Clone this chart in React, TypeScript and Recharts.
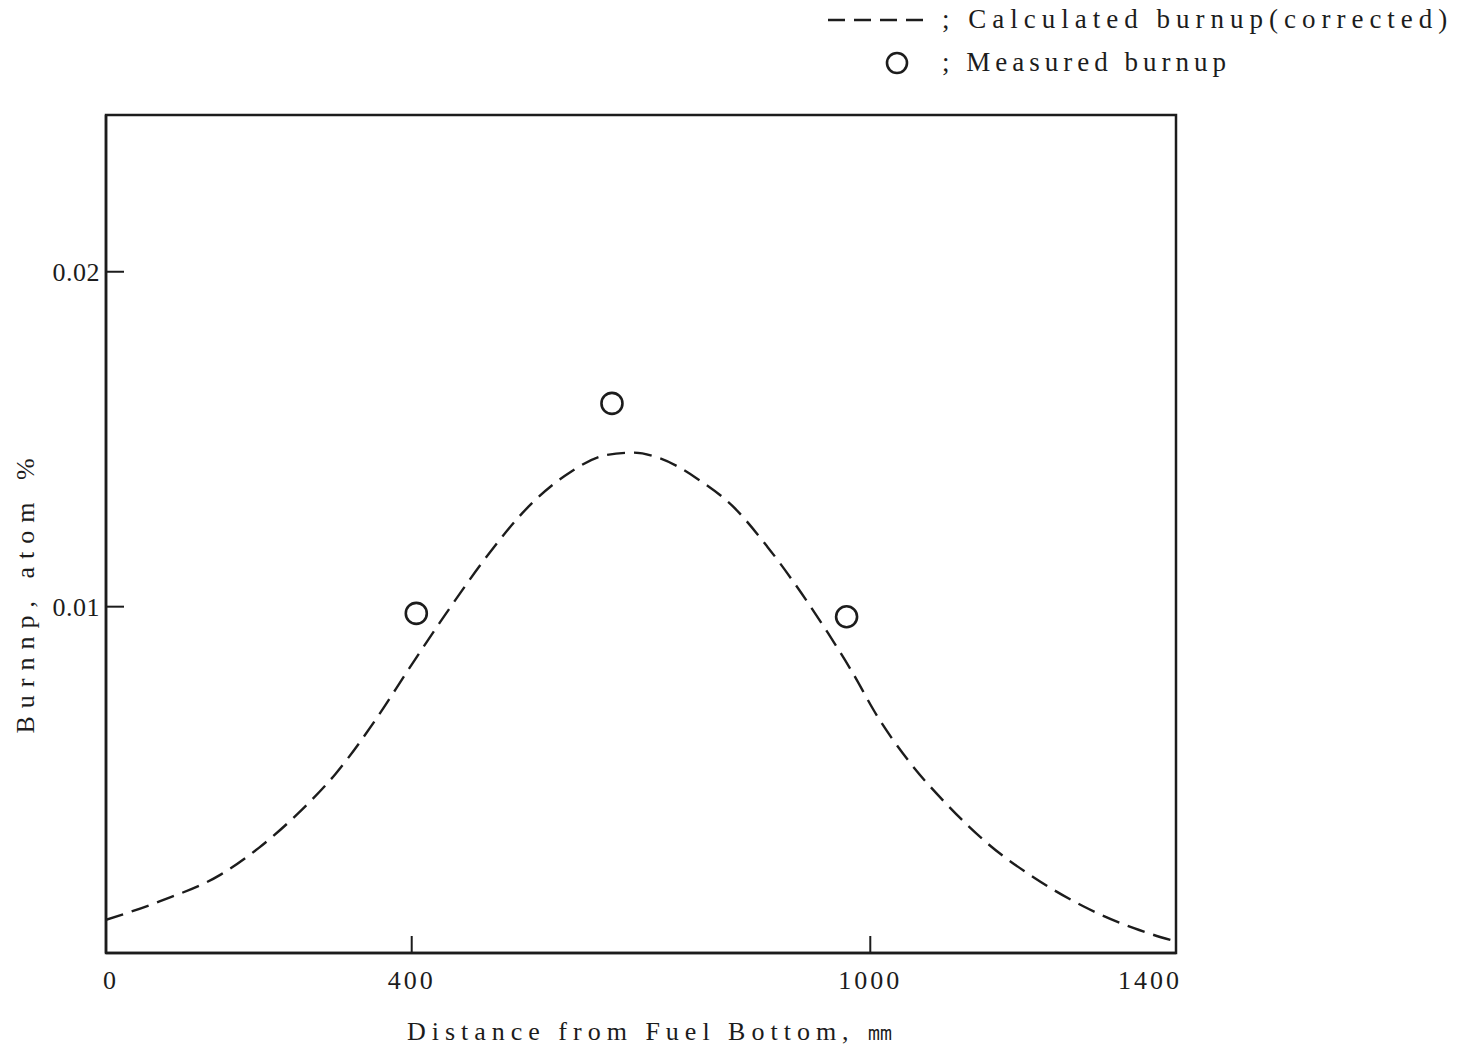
import { ComposedChart, Line, Scatter, XAxis, YAxis, ReferenceArea, Label } from "recharts";

const positionMm = [0, 70, 150, 200, 250, 300, 355, 395, 445, 505, 545, 600, 655, 690, 725, 775, 820, 865, 910, 945, 975, 1010, 1050, 1100, 1155, 1215, 1280, 1345, 1400];
const calculatedBurnup = [0.00065, 0.0012, 0.002, 0.0028, 0.0038, 0.005, 0.0067, 0.0081, 0.0098, 0.0117, 0.0128, 0.0139, 0.01453, 0.0146, 0.01443, 0.0138, 0.013, 0.0118, 0.0104, 0.0092, 0.0081, 0.0067, 0.0054, 0.0041, 0.0029, 0.0019, 0.00104, 0.0004, 0.0];

const measuredPositionMm = [406, 662, 969];
const measuredBurnup = [0.0098, 0.01607, 0.0097];

const xTicks = [0, 400, 1000, 1400];
const yTicks = [0.01, 0.02];
const yTickLabels = ["0.01", "0.02"];

const curve = positionMm.map((x, i) => ({ x, y: calculatedBurnup[i] }));
const measured = measuredPositionMm.map((x, i) => ({ x, y: measuredBurnup[i] }));

const INK = "#1c1c1c";
const FONT = '"Liberation Serif", "DejaVu Serif", serif';

const XTick = (props: any) => {
  const { x, y, payload } = props;
  const v = payload.value;
  const anchor = v === 1400 ? "end" : "middle";
  const dx = v === 1400 ? 6 : v === 0 ? 5 : 0;
  return (
    <text x={x + dx} y={y} dy="0.71em" textAnchor={anchor} fill={INK} fontFamily={FONT} fontSize={26} letterSpacing={3}>
      {v}
    </text>
  );
};

const YTick = (props: any) => {
  const { x, y, payload } = props;
  const idx = yTicks.indexOf(payload.value);
  return (
    <text x={x} y={y} dy="0.35em" textAnchor="end" fill={INK} fontFamily={FONT} fontSize={26} letterSpacing={0.5}>
      {yTickLabels[idx] ?? payload.value}
    </text>
  );
};

const MeasuredDot = (props: any) => {
  const { cx, cy } = props;
  return <circle cx={cx} cy={cy} r={10.5} fill="none" stroke={INK} strokeWidth={2.6} />;
};

export default function App() {
  return (
    <div style={{ position: "relative", width: 1441, height: 1045 }}>
      <ComposedChart width={1441} height={1045} margin={{ top: 107, right: 273, bottom: 0, left: 0 }}>
        <XAxis
          type="number"
          dataKey="x"
          domain={[0, 1400]}
          ticks={xTicks}
          allowDataOverflow
          height={100}
          axisLine={{ stroke: INK, strokeWidth: 2.5 }}
          tickLine={{ stroke: INK, strokeWidth: 2 }}
          tickSize={-17}
          tickMargin={35}
          tick={<XTick />}
        >
          <Label
            value="Distance from Fuel Bottom, ㎜"
            position="insideBottom"
            offset={13}
            dx={12}
            fill={INK}
            fontFamily={FONT}
            fontSize={26}
            letterSpacing={6}
          />
        </XAxis>
        <YAxis
          type="number"
          dataKey="y"
          domain={[-0.00034, 0.02468]}
          ticks={yTicks}
          allowDataOverflow
          width={98}
          axisLine={{ stroke: INK, strokeWidth: 2.5 }}
          tickLine={{ stroke: INK, strokeWidth: 2 }}
          tickSize={-18}
          tickMargin={24}
          tick={<YTick />}
        >
          <Label
            content={() => (
              <text
                x={17}
                y={584}
                transform="rotate(-90, 17, 584)"
                textAnchor="middle"
                dominantBaseline="central"
                fill={INK}
                fontFamily={FONT}
                fontSize={26}
                letterSpacing={8}
              >
                Burnnp, atom %
              </text>
            )}
          />
        </YAxis>
        <ReferenceArea x1={0} x2={1400} y1={-0.00034} y2={0.02468} fill="none" stroke={INK} strokeWidth={2.5} ifOverflow="visible" />
        <Line
          data={curve}
          dataKey="y"
          type="monotone"
          stroke={INK}
          strokeWidth={2.4}
          strokeDasharray="18 9"
          dot={false}
          activeDot={false}
          isAnimationActive={false}
        />
        <Scatter data={measured} dataKey="y" shape={<MeasuredDot />} isAnimationActive={false} />
      </ComposedChart>
      <div
        style={{
          position: "absolute",
          left: 818,
          top: -10,
          fontFamily: FONT,
          fontSize: 27,
          color: INK,
          lineHeight: "43px",
          whiteSpace: "nowrap",
        }}
      >
        <div style={{ display: "flex", alignItems: "center", letterSpacing: 6 }}>
          <svg width={104} height={20} style={{ marginRight: 12 }}>
            <line x1={2} y1={10} x2={100} y2={10} stroke={INK} strokeWidth={2.4} strokeDasharray="17 9" />
          </svg>
          <span>; Calculated burnup(corrected)</span>
        </div>
        <div style={{ display: "flex", alignItems: "center", paddingLeft: 56, letterSpacing: 5 }}>
          <svg width={30} height={30} style={{ marginRight: 30 }}>
            <circle cx={15} cy={15} r={10} fill="none" stroke={INK} strokeWidth={2.6} />
          </svg>
          <span>; Measured burnup</span>
        </div>
      </div>
    </div>
  );
}
